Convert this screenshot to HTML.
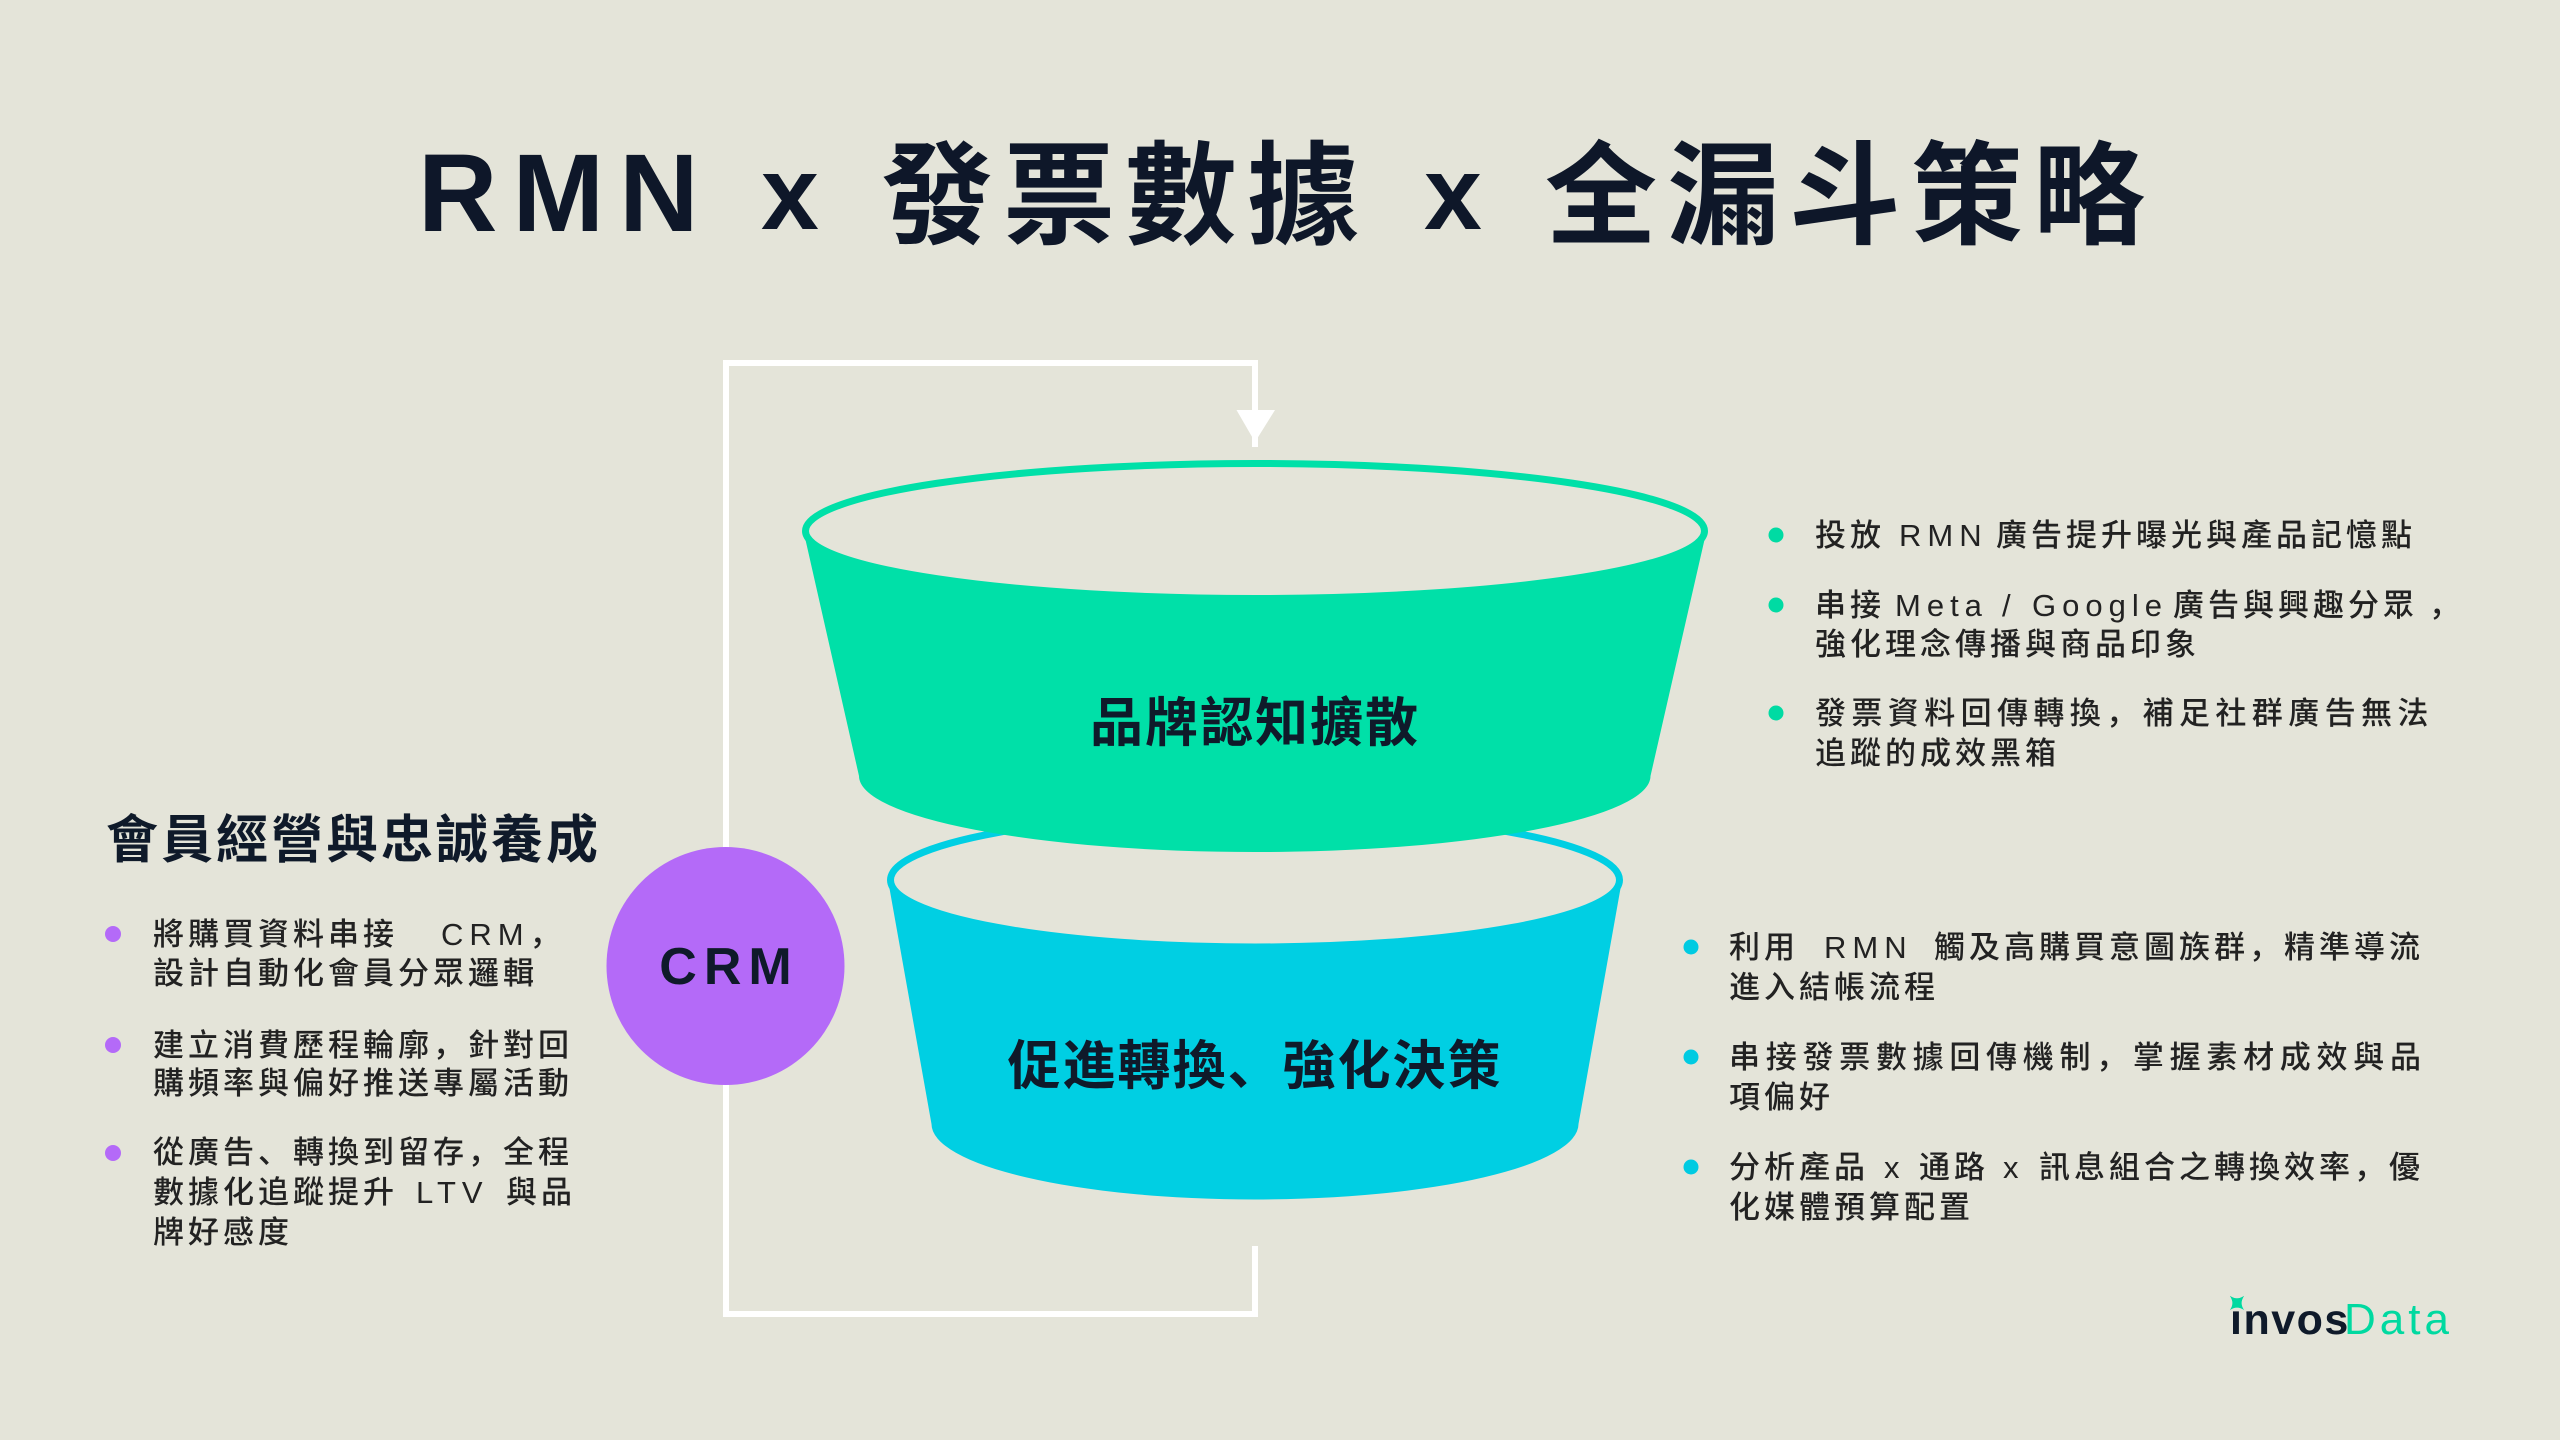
<!DOCTYPE html>
<html><head><meta charset="utf-8">
<style>
html,body{margin:0;padding:0}
body{width:2560px;height:1440px;position:relative;overflow:hidden;background:#e4e4d9;font-family:"Liberation Sans","Noto Sans CJK SC",sans-serif}
.s{position:absolute;white-space:nowrap}
.ti{font-size:112px;line-height:112px;font-weight:700;color:#0e1729;letter-spacing:10px;top:141px}
.b{font-size:31px;line-height:40px;letter-spacing:4px;font-weight:500;color:#222}
.lat{letter-spacing:6px}
.fl{font-size:53px;line-height:53px;font-weight:700;color:#0f1a2a;letter-spacing:2px;width:800px;left:855px;text-align:center}
</style></head><body>
<svg width="2560" height="1440" style="position:absolute;left:0;top:0" xmlns="http://www.w3.org/2000/svg">
<rect x="0" y="0" width="2560" height="1440" fill="#e4e4d9"/>
<path d="M1255,1246 V1314 H726 V363 H1255 V447" stroke="#ffffff" stroke-width="6" fill="none" stroke-linejoin="miter"/>
<polygon points="1236.5,410 1275,410 1255,442" fill="#ffffff"/>
<path d="M888,880 L931.5,1124 A323.5,75.5 0 0 0 1578.5,1124 L1622,880 Z" fill="#00cfe3"/>
<ellipse cx="1255" cy="880" rx="364.5" ry="67" fill="#e4e4d9" stroke="#00cfe3" stroke-width="7"/>
<path d="M803.5,531 L859,776 A395.5,76 0 0 0 1650.5,776 L1706.5,531 Z" fill="#00e0a8"/>
<ellipse cx="1255" cy="531" rx="449.5" ry="67.5" fill="#e4e4d9" stroke="#00e0a8" stroke-width="7"/>
<circle cx="725.5" cy="966" r="119" fill="#b46af8"/>
<g fill="#00dba3">
<circle cx="1776" cy="535" r="7.5"/><circle cx="1776" cy="605" r="7.5"/><circle cx="1776" cy="713" r="7.5"/>
</g>
<g fill="#00cbe2">
<circle cx="1691" cy="947" r="7.5"/><circle cx="1691" cy="1057" r="7.5"/><circle cx="1691" cy="1167" r="7.5"/>
</g>
<g fill="#b46af8">
<circle cx="113" cy="934" r="8"/><circle cx="113" cy="1045" r="8"/><circle cx="113" cy="1153" r="8"/>
</g>
<g transform="translate(2237,1303) rotate(45)" fill="#00d9a0">
<path d="M0,-10 Q1.5,-1.5 10,0 Q1.5,1.5 0,10 Q-1.5,1.5 -10,0 Q-1.5,-1.5 0,-10 Z"/>
</g>
</svg>

<!-- Title -->
<div class="s" style="left:418px;top:139px;font-size:110px;line-height:110px;font-weight:700;letter-spacing:15px;color:#0e1729">RMN</div>
<div class="s" style="left:761px;top:142px;font-size:104px;line-height:104px;font-weight:700;color:#0e1729">x</div>
<div class="s ti" style="left:881px">發票數據</div>
<div class="s" style="left:1424px;top:142px;font-size:104px;line-height:104px;font-weight:700;color:#0e1729">x</div>
<div class="s ti" style="left:1545px">全漏斗策略</div>

<!-- Funnel labels -->
<div class="s fl" style="top:697px">品牌認知擴散</div>
<div class="s fl" style="top:1040px">促進轉換、強化決策</div>

<!-- CRM -->
<div class="s" style="left:605px;width:241px;text-align:center;top:941px;font-size:52px;line-height:52px;font-weight:700;letter-spacing:7px;color:#0f1a2a;text-indent:7px">CRM</div>

<!-- Left heading -->
<div class="s" style="left:106px;top:815px;font-size:52px;line-height:52px;font-weight:700;letter-spacing:3px;color:#0f1a2a">會員經營與忠誠養成</div>

<!-- Left bullets -->
<div class="s b" style="left:153px;top:915px">將購買資料串接</div>
<div class="s b lat" style="left:441px;top:915px">CRM，</div>
<div class="s b" style="left:153px;top:954px">設計自動化會員分眾邏輯</div>
<div class="s b" style="left:153px;top:1026px">建立消費歷程輪廓，針對回</div>
<div class="s b" style="left:153px;top:1064px">購頻率與偏好推送專屬活動</div>
<div class="s b" style="left:153px;top:1133px">從廣告、轉換到留存，全程</div>
<div class="s b" style="left:153px;top:1173px">數據化追蹤提升</div>
<div class="s b lat" style="left:416px;top:1173px">LTV</div>
<div class="s b" style="left:506px;top:1173px">與品</div>
<div class="s b" style="left:153px;top:1213px">牌好感度</div>

<!-- Top right bullets -->
<div class="s b" style="left:1815px;top:516px">投放</div>
<div class="s b lat" style="left:1899px;top:516px">RMN</div>
<div class="s b" style="left:1996px;top:516px">廣告提升曝光與產品記憶點</div>
<div class="s b" style="left:1815px;top:586px">串接</div>
<div class="s b lat" style="left:1895px;top:586px">Meta</div>
<div class="s b" style="left:2002px;top:586px">/</div>
<div class="s b lat" style="left:2032px;top:586px">Google</div>
<div class="s b" style="left:2173px;top:586px">廣告與興趣分眾</div>
<div class="s b" style="left:2429px;top:586px">，</div>
<div class="s b" style="left:1815px;top:625px">強化理念傳播與商品印象</div>
<div class="s b" style="left:1815px;top:694px;letter-spacing:5.4px">發票資料回傳轉換，補足社群廣告無法</div>
<div class="s b" style="left:1815px;top:734px">追蹤的成效黑箱</div>

<!-- Bottom right bullets -->
<div class="s b" style="left:1729px;top:928px">利用</div>
<div class="s b lat" style="left:1824px;top:928px">RMN</div>
<div class="s b" style="left:1934px;top:928px">觸及高購買意圖族群，精準導流</div>
<div class="s b" style="left:1729px;top:968px">進入結帳流程</div>
<div class="s b" style="left:1729px;top:1038px;letter-spacing:5.72px">串接發票數據回傳機制，掌握素材成效與品</div>
<div class="s b" style="left:1729px;top:1078px">項偏好</div>
<div class="s b" style="left:1729px;top:1148px">分析產品</div>
<div class="s b" style="left:1884px;top:1148px">x</div>
<div class="s b" style="left:1919px;top:1148px">通路</div>
<div class="s b" style="left:2003px;top:1148px">x</div>
<div class="s b" style="left:2039px;top:1148px">訊息組合之轉換效率，優</div>
<div class="s b" style="left:1729px;top:1188px">化媒體預算配置</div>

<!-- Logo -->
<div class="s" style="left:2230px;top:1299px;font-size:43px;line-height:43px;font-weight:700;letter-spacing:1.5px;color:#0f1a2a">invos</div>
<div class="s" style="left:2344px;top:1298px;font-size:44px;line-height:44px;font-weight:400;letter-spacing:4px;color:#00d9a0">Data</div>
<svg width="30" height="30" style="position:absolute;left:2222px;top:1288px" xmlns="http://www.w3.org/2000/svg">
<rect x="8" y="13" width="14" height="9" fill="#e4e4d9"/>
<g transform="translate(15,15) rotate(45)" fill="#00d9a0"><path d="M0,-10 Q1.5,-1.5 10,0 Q1.5,1.5 0,10 Q-1.5,1.5 -10,0 Q-1.5,-1.5 0,-10 Z"/></g>
</svg>
</body></html>
